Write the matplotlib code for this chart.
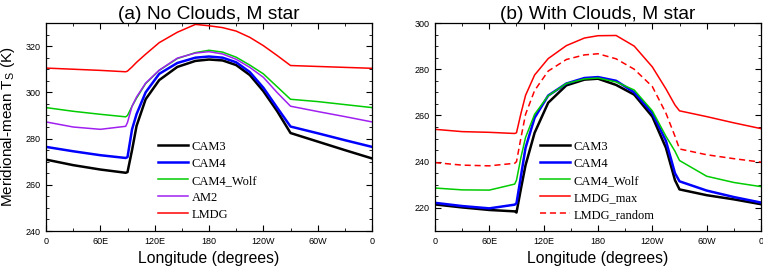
import numpy as np
import matplotlib
matplotlib.use('Agg')
import matplotlib.pyplot as plt
from matplotlib.ticker import MultipleLocator

plt.rcParams['font.family'] = ['Liberation Sans', 'DejaVu Sans']

# ---- data (a) No Clouds ----
lon_a = [0, 30, 60, 88, 90, 95, 100, 110, 125, 145, 165, 180, 195, 210, 225, 240, 255, 270, 300, 330, 360]
cam3_a = [270.9, 268.5, 266.6, 265.2, 265.5, 275.0, 285.5, 297.0, 305.3, 311.0, 313.6, 314.2, 313.8, 311.8, 307.5, 300.5, 292.0, 282.4, 278.7, 275.0, 271.4]
cam4_a = [276.4, 274.5, 272.8, 271.6, 272.0, 284.0, 290.6, 300.0, 308.0, 312.7, 315.0, 315.5, 315.0, 313.0, 308.8, 302.0, 293.5, 285.2, 282.3, 279.3, 276.4]
wolf_a = [293.4, 291.8, 290.5, 289.4, 290.0, 294.0, 297.5, 303.8, 309.5, 314.6, 317.2, 318.2, 317.4, 315.2, 311.8, 308.0, 302.5, 297.0, 296.0, 294.7, 293.4]
am2_a = [287.2, 285.0, 284.0, 285.3, 287.0, 294.0, 298.0, 304.0, 309.6, 314.8, 317.0, 317.6, 316.6, 314.3, 310.8, 306.5, 300.0, 294.0, 291.7, 289.5, 287.2]
lmdg_a = [310.5, 310.0, 309.5, 308.9, 309.2, 311.0, 313.0, 316.5, 321.5, 326.0, 329.4, 328.8, 328.0, 326.5, 323.8, 320.2, 316.0, 311.6, 311.2, 310.8, 310.4]

# ---- data (b) With Clouds ----
lon_b = [0, 30, 60, 88, 90, 95, 100, 110, 125, 145, 165, 180, 200, 220, 240, 255, 265, 270, 300, 330, 360]
cam3_b = [221.5, 220.2, 219.1, 218.5, 218.0, 228.5, 238.5, 252.5, 265.5, 273.0, 275.5, 275.9, 273.2, 269.0, 259.5, 246.0, 232.0, 228.0, 225.5, 223.7, 221.6]
cam4_b = [222.2, 220.8, 219.8, 221.4, 222.0, 234.0, 246.0, 259.0, 268.6, 273.8, 276.2, 276.6, 275.0, 270.0, 261.0, 249.0, 235.0, 231.5, 227.5, 224.7, 222.3]
wolf_b = [228.6, 227.8, 227.7, 230.3, 232.0, 242.0, 250.5, 260.5, 268.5, 273.8, 275.8, 276.2, 274.5, 271.0, 262.0, 251.0, 244.5, 240.5, 233.7, 231.0, 229.2]
lmax_b = [254.0, 253.0, 252.7, 252.2, 252.5, 261.0, 268.7, 277.5, 284.6, 290.2, 293.5, 294.5, 294.6, 290.0, 281.0, 271.5, 264.5, 262.0, 259.5, 256.8, 254.3]
lrand_b = [239.6, 238.5, 238.2, 239.3, 240.0, 250.5, 260.5, 270.8, 279.2, 284.2, 286.2, 286.7, 284.5, 280.0, 272.5, 261.0, 251.0, 245.5, 243.0, 241.3, 239.8]

xticks = [0, 60, 120, 180, 240, 300, 360]
xlabels = ['0', '60E', '120E', '180', '120W', '60W', '0']

fig = plt.figure(figsize=(7.63, 2.70), dpi=100)
ax1 = fig.add_axes([0.0603, 0.1444, 0.4273, 0.7704])
ax2 = fig.add_axes([0.5701, 0.1444, 0.4273, 0.7704])

thick = 1.8
thin = 1.1

ax1.plot(lon_a, cam3_a, color='black', lw=thick, label='CAM3')
ax1.plot(lon_a, cam4_a, color='#0000ff', lw=thick, label='CAM4')
ax1.plot(lon_a, wolf_a, color='#00cc00', lw=thin, label='CAM4_Wolf')
ax1.plot(lon_a, am2_a, color='#a020f0', lw=thin, label='AM2')
ax1.plot(lon_a, lmdg_a, color='#ff0000', lw=thin, label='LMDG')

ax2.plot(lon_b, cam3_b, color='black', lw=thick, label='CAM3')
ax2.plot(lon_b, cam4_b, color='#0000ff', lw=thick, label='CAM4')
ax2.plot(lon_b, wolf_b, color='#00cc00', lw=thin, label='CAM4_Wolf')
ax2.plot(lon_b, lmax_b, color='#ff0000', lw=thin, label='LMDG_max')
ax2.plot(lon_b, lrand_b, color='#ff0000', lw=thin, ls=(0, (4, 2.5)), label='LMDG_random')

for ax, ylim, lx in [(ax1, (240, 330), 0.328), (ax2, (210, 300), 0.306)]:
    ax.set_xlim(0, 360)
    ax.set_ylim(*ylim)
    ax.set_xticks(xticks)
    ax.set_xticklabels(xlabels)
    ax.xaxis.set_minor_locator(MultipleLocator(30))
    ax.yaxis.set_major_locator(MultipleLocator(20))
    ax.yaxis.set_minor_locator(MultipleLocator(5))
    ax.tick_params(which='both', direction='in', top=True, right=True, labelsize=6.5, pad=4)
    ax.tick_params(which='major', length=4, width=0.8)
    ax.tick_params(which='minor', length=2.2, width=0.6)
    for s in ax.spines.values():
        s.set_linewidth(0.9)
    ax.set_xlabel('Longitude (degrees)', fontsize=11.3, labelpad=4)
    ax.legend(loc='lower left', bbox_to_anchor=(lx, 0.025), frameon=False,
              prop={'family': 'Liberation Serif', 'size': 9},
              handlelength=2.4, handletextpad=0.3, labelspacing=0.4,
              borderaxespad=0)

ax1.set_title('(a) No Clouds, M star', fontsize=13.8, pad=3)
ax2.set_title('(b) With Clouds, M star', fontsize=13.8, pad=3)
ax1.set_ylabel('Meridional-mean T$_\\mathregular{S}$ (K)', fontsize=11, labelpad=6)

fig.savefig('out.png', dpi=100)
